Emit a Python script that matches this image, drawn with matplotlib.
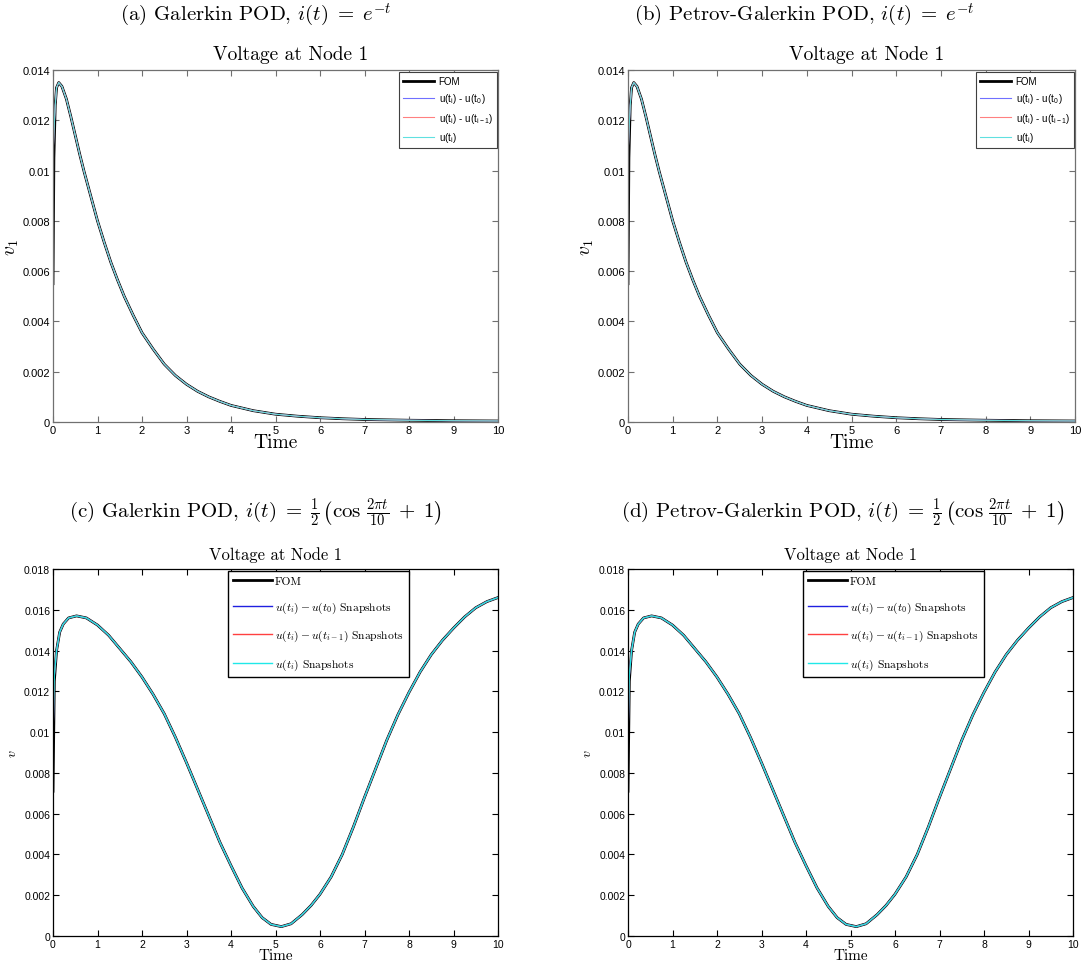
import matplotlib
matplotlib.use('Agg')
import matplotlib.pyplot as plt
from matplotlib import ticker

plt.rcParams['mathtext.fontset'] = 'cm'
plt.rcParams['axes.unicode_minus'] = False

SERIF = 'cmr10'
SANS = 'Liberation Sans'

# i(t) = exp(-t) : voltage at node 1
t_exp = [0, 0.02, 0.05, 0.08, 0.13, 0.2, 0.3, 0.4, 0.5, 0.6, 0.7, 0.8, 0.9,
         1.0, 1.15, 1.3, 1.45, 1.6, 1.8, 2.0, 2.25, 2.5, 2.75, 3.0, 3.25, 3.5,
         3.75, 4.0, 4.5, 5.0, 5.5, 6.0, 6.5, 7.0, 8.0, 9.0, 10.0]
v_fom_exp = [0.0055, 0.0105, 0.0126, 0.0133, 0.01350, 0.01335, 0.01285,
             0.01215, 0.0114, 0.01065, 0.00995, 0.0093, 0.00865, 0.0080,
             0.00715, 0.00635, 0.00565, 0.0050, 0.00425, 0.00355, 0.0029,
             0.0023, 0.00185, 0.0015, 0.00122, 0.0010, 0.00082, 0.00066,
             0.00045, 0.00031, 0.00023, 0.00017, 0.00013, 0.00010, 0.00007,
             0.00005, 0.00004]
# reduced models start a bit higher, then coincide with the FOM
v_rom_exp = [0.0105, 0.0115] + v_fom_exp[2:]

# i(t) = (cos(2 pi t / 10) + 1) / 2
t_cos = [0, 0.03, 0.08, 0.15, 0.23, 0.35, 0.53, 0.75, 1.0, 1.25, 1.5, 1.75,
         2.0, 2.25, 2.5, 2.75, 3.0, 3.25, 3.5, 3.75, 4.0, 4.25, 4.5, 4.7, 4.9,
         5.13, 5.35, 5.6, 5.8, 6.0, 6.25, 6.5, 6.75, 7.0, 7.25, 7.5, 7.75,
         8.0, 8.25, 8.5, 8.75, 9.0, 9.25, 9.5, 9.75, 10.0]
v_fom_cos = [0.0071, 0.0125, 0.0140, 0.0149, 0.0153, 0.0156, 0.0157, 0.0156,
             0.01525, 0.01475, 0.0141, 0.01345, 0.0127, 0.01185, 0.0109,
             0.00975, 0.0085, 0.0072, 0.0059, 0.0046, 0.00345, 0.00235,
             0.00145, 0.0009, 0.00057, 0.00046, 0.0006, 0.00105, 0.0015,
             0.00205, 0.0029, 0.0040, 0.00535, 0.0068, 0.0082, 0.0096, 0.01085,
             0.01195, 0.01295, 0.0138, 0.0145, 0.0151, 0.01565, 0.0161,
             0.0164, 0.0166]
v_rom_cos = [0.0098, 0.0128] + v_fom_cos[2:]

labels_top = ['FOM',
              r'u(t$_\mathregular{i}$) - u(t$_\mathregular{0}$)',
              r'u(t$_\mathregular{i}$) - u(t$_\mathregular{i-1}$)',
              r'u(t$_\mathregular{i}$)']
labels_bot = ['FOM',
              r'$u(t_i) - u(t_0)$ Snapshots',
              r'$u(t_i) - u(t_{i-1})$ Snapshots',
              r'$u(t_i)$ Snapshots']

captions = [r'(a) Galerkin POD, $i(t)\;=\;e^{-t}$',
            r'(b) Petrov-Galerkin POD, $i(t)\;=\;e^{-t}$',
            r'(c) Galerkin POD, $i(t)\;=\;\frac{1}{2}\,\left(\cos\,\frac{2\pi t}{10}\;+\;1\right)$',
            r'(d) Petrov-Galerkin POD, $i(t)\;=\;\frac{1}{2}\,\left(\cos\,\frac{2\pi t}{10}\;+\;1\right)$']

W, H = 1081, 970
fig = plt.figure(figsize=(W / 100, H / 100), dpi=100)


def px_axes(left, top, right, bottom):
    return fig.add_axes([left / W, 1 - bottom / H, (right - left) / W, (bottom - top) / H])


def style_axes(ax, ymax, edge, fs):
    ax.set_xlim(0, 10)
    ax.set_ylim(0, ymax)
    ax.set_xticks(range(11))
    ax.set_yticks([k * 0.002 for k in range(int(round(ymax / 0.002)) + 1)])
    ax.yaxis.set_major_formatter(ticker.FormatStrFormatter('%g'))
    ax.tick_params(direction='in', length=4, width=0.8, top=True, right=True,
                   color=edge, labelsize=fs, pad=2)
    for lab in ax.get_xticklabels() + ax.get_yticklabels():
        lab.set_fontfamily(SANS)
    for sp in ax.spines.values():
        sp.set_color(edge)
        sp.set_linewidth(0.9)


# top row
for i, (l, r) in enumerate([(53, 498), (628, 1075)]):
    ax = px_axes(l, 71, r, 423)
    ax.plot(t_exp, v_fom_exp, color='black', lw=2.0, label=labels_top[0])
    ax.plot(t_exp, v_rom_exp, color='#7070ff', lw=0.8, label=labels_top[1])
    ax.plot(t_exp, v_rom_exp, color='#ff8080', lw=0.8, label=labels_top[2])
    ax.plot(t_exp, v_rom_exp, color='#60e0e0', lw=0.8, label=labels_top[3])
    style_axes(ax, 0.014, '#707070', 8)
    ax.set_xlabel('Time', fontfamily=SERIF, fontsize=14, labelpad=-1)
    ax.set_ylabel(r'$v_1$', fontsize=14, labelpad=1)
    leg = ax.legend(loc='upper right', bbox_to_anchor=(0.998, 0.994),
                    borderaxespad=0, fancybox=False, framealpha=1,
                    prop={'family': SANS, 'size': 7}, handlelength=3.2,
                    labelspacing=0.55, borderpad=0.4, handletextpad=0.5)
    leg.get_frame().set_edgecolor('#404040')
    leg.get_frame().set_linewidth(0.8)
    fig.text((l + r) / 2 / W + 0.014, 1 - 55 / H, 'Voltage at Node 1',
             fontfamily=SERIF, fontsize=14, ha='center', va='center')

fig.text(256 / W, 1 - 15 / H, captions[0], fontfamily=SERIF, fontsize=15,
         ha='center', va='center')
fig.text(804 / W, 1 - 15 / H, captions[1], fontfamily=SERIF, fontsize=15,
         ha='center', va='center')

# bottom row
for i, (l, r) in enumerate([(53, 498), (628, 1073)]):
    ax = px_axes(l, 570, r, 937)
    ax.plot(t_cos, v_fom_cos, color='black', lw=2.0, label=labels_bot[0])
    ax.plot(t_cos, v_rom_cos, color='#2020e0', lw=1.0, label=labels_bot[1])
    ax.plot(t_cos, v_rom_cos, color='#ff4040', lw=1.0, label=labels_bot[2])
    ax.plot(t_cos, v_rom_cos, color='#20e8e8', lw=1.0, label=labels_bot[3])
    style_axes(ax, 0.018, 'black', 7.5)
    ax.set_xlabel('Time', fontfamily=SERIF, fontsize=11, labelpad=0)
    ax.set_ylabel(r'$v$', fontsize=10, labelpad=4)
    leg = ax.legend(loc='upper left', bbox_to_anchor=((228 - 53) / 445, (937 - 572) / 367),
                    borderaxespad=0, fancybox=False, framealpha=1,
                    prop={'family': SERIF, 'size': 8.3}, handlelength=3.4,
                    labelspacing=1.15, borderpad=0.45, handletextpad=0.2)
    leg.get_frame().set_edgecolor('black')
    leg.get_frame().set_linewidth(1.0)
    fig.text((l + r) / 2 / W, 1 - 555 / H, 'Voltage at Node 1',
             fontfamily=SERIF, fontsize=12, ha='center', va='center')

fig.text(255 / W, 1 - 513 / H, captions[2], fontfamily=SERIF, fontsize=15,
         ha='center', va='center')
fig.text(843 / W, 1 - 513 / H, captions[3], fontfamily=SERIF, fontsize=15,
         ha='center', va='center')

fig.savefig('out.png', dpi=100)
